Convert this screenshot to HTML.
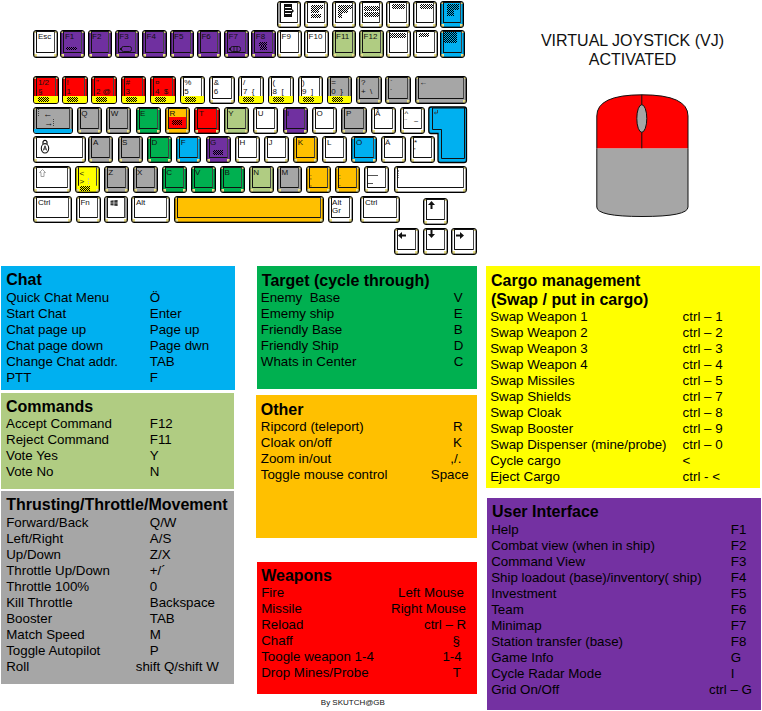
<!DOCTYPE html>
<html><head><meta charset="utf-8"><title>Keyboard</title><style>
*{margin:0;padding:0}
html,body{width:762px;height:711px;overflow:hidden;background:#fff;position:relative;font-family:"Liberation Sans", sans-serif}
.k{position:absolute;box-sizing:border-box;border:1px solid #000;border-radius:3px;overflow:hidden;box-shadow:inset 0 0 0 1px rgba(0,0,0,.38);
background-image:linear-gradient(#ece28c,#ece28c),linear-gradient(#ece28c,#ece28c),linear-gradient(#ece28c,#ece28c),linear-gradient(#ece28c,#ece28c);
background-size:2px 2px,2px 2px,3px 3px,3px 3px;background-position:0 0,100% 0,0 100%,100% 100%;background-repeat:no-repeat}
.k i{position:absolute;display:block}
.k .f{left:2px;right:2px;top:0;bottom:4px;border:1px solid #111;border-right-color:#444;border-radius:1px}
.k .f.lr{border-top:0;border-bottom:0;top:0;bottom:6px}
.k .s{left:0;right:0;bottom:0;height:7px}
.k .c{background:repeating-conic-gradient(#000 0 25%,transparent 0 50%) 0 0/2px 2px}
.k .bar{width:0;border-left:1px dotted #444}
.k .hl{height:0;border-top:1px solid #555}
.k .l{position:absolute;left:3.6px;font-size:8px;line-height:8px;color:#111;white-space:pre}
.k .ic{position:absolute}
.p{position:absolute}
.h{position:absolute;font-size:16px;font-weight:bold;line-height:18px;color:#000;white-space:pre}
.t{position:absolute;font-size:13.33px;line-height:16px;color:#000;white-space:pre}
.vj{position:absolute;left:532px;width:201px;text-align:center;font-size:16px;line-height:19px;color:#111}
.by{position:absolute;left:320.8px;top:698px;font-size:8px;line-height:10px;color:#111}
</style></head>
<body>
<div class="k" style="left:277px;top:0.7px;width:24px;height:27.1px;background-color:#ffffff"><i class="f"></i><i style="left:0;top:1px;width:2px;bottom:4px;background:#9a9a9a"></i><svg class="ic" style="left:5px;top:2px" width="12" height="14" viewBox="0 0 12 14"><rect x="1" y="0" width="8" height="13" fill="#111"/><rect x="2" y="3" width="6" height="1" fill="#fff"/><rect x="2" y="6" width="7" height="1" fill="#fff"/><rect x="2" y="9" width="6" height="1" fill="#fff"/><path d="M9 5 L11 7 L9 9 Z" fill="#111"/></svg></div>
<div class="k" style="left:304px;top:0.7px;width:24px;height:27.1px;background-color:#ffffff"><i class="f"></i><i class="c" style="left:6px;top:3px;width:12px;height:4px"></i><i class="c" style="left:6px;top:7px;width:8px;height:4px"></i><i class="c" style="left:6px;top:12px;width:10px;height:4px"></i></div>
<div class="k" style="left:331.5px;top:0.7px;width:24.0px;height:27.1px;background-color:#ffffff"><i class="f"></i><i class="c" style="left:5px;top:3px;width:14px;height:4px"></i><i class="c" style="left:5px;top:7px;width:10px;height:4px"></i><i class="c" style="left:5px;top:11px;width:4px;height:5px"></i></div>
<div class="k" style="left:359px;top:0.7px;width:24px;height:27.1px;background-color:#ffffff"><i class="f"></i><i class="c" style="left:4px;top:4px;width:15px;height:5px"></i><i class="c" style="left:4px;top:10px;width:15px;height:5px"></i></div>
<div class="k" style="left:386.3px;top:0.7px;width:24.0px;height:27.1px;background-color:#ffffff"><i class="f"></i><i class="c" style="left:5px;top:2px;width:13px;height:5px"></i></div>
<div class="k" style="left:413.3px;top:0.7px;width:24.0px;height:27.1px;background-color:#ffffff"><i class="f"></i><i class="c" style="left:6px;top:2px;width:13px;height:5px"></i></div>
<div class="k" style="left:440.3px;top:0.7px;width:24.0px;height:27.1px;background-color:#00b0f0"><i class="f"></i><i class="c" style="left:6px;top:2px;width:12px;height:6px"></i><i class="c" style="left:6px;top:8px;width:7px;height:6px"></i></div>
<div class="k" style="left:33.3px;top:30px;width:24.5px;height:27.8px;background-color:#ffffff"><i class="f"></i><span class="l" style="top:2px">Esc</span></div>
<div class="k" style="left:60.3px;top:30px;width:24.5px;height:27.8px;background-color:#7030a0"><i class="f"></i><span class="l" style="top:2px">F1</span><i class="c" style="left:5px;top:16px;width:11px;height:3px"></i></div>
<div class="k" style="left:87.5px;top:30px;width:24.5px;height:27.8px;background-color:#7030a0"><i class="f"></i><span class="l" style="top:2px">F2</span></div>
<div class="k" style="left:114.7px;top:30px;width:24.5px;height:27.8px;background-color:#7030a0"><i class="f"></i><span class="l" style="top:2px">F3</span><svg class="ic" style="left:4px;top:15px" width="13" height="7" viewBox="0 0 13 7"><rect x="1.5" y="0.5" width="10" height="5" rx="2" fill="none" stroke="#111" stroke-width="0.9"/><rect x="0" y="2" width="2" height="2" fill="#111"/></svg></div>
<div class="k" style="left:142px;top:30px;width:24.5px;height:27.8px;background-color:#7030a0"><i class="f"></i><span class="l" style="top:2px">F4</span></div>
<div class="k" style="left:169.5px;top:30px;width:24.5px;height:27.8px;background-color:#7030a0"><i class="f"></i><span class="l" style="top:2px">F5</span></div>
<div class="k" style="left:196.8px;top:30px;width:24.5px;height:27.8px;background-color:#7030a0"><i class="f"></i><span class="l" style="top:2px">F6</span></div>
<div class="k" style="left:224px;top:30px;width:24.5px;height:27.8px;background-color:#7030a0"><i class="f"></i><span class="l" style="top:2px">F7</span><svg class="ic" style="left:4px;top:15px" width="13" height="7" viewBox="0 0 13 7"><rect x="1.5" y="0.5" width="10" height="5" rx="2" fill="none" stroke="#111" stroke-width="0.9"/><rect x="0" y="2" width="2" height="2" fill="#111"/><path d="M5 1V5M8 1V5" stroke="#111" stroke-width="0.8"/></svg></div>
<div class="k" style="left:251.2px;top:30px;width:24.5px;height:27.8px;background-color:#7030a0"><i class="f"></i><span class="l" style="top:2px">F8</span><i class="c" style="left:7px;top:11px;width:8px;height:4px"></i><i class="c" style="left:8px;top:15px;width:7px;height:4px"></i></div>
<div class="k" style="left:277px;top:30px;width:24.5px;height:27.8px;background-color:#ffffff"><i class="f"></i><span class="l" style="top:2px">F9</span></div>
<div class="k" style="left:304px;top:30px;width:24.5px;height:27.8px;background-color:#ffffff"><i class="f"></i><span class="l" style="top:2px">F10</span></div>
<div class="k" style="left:331.5px;top:30px;width:24.5px;height:27.8px;background-color:#b0cc82"><i class="f"></i><span class="l" style="top:2px">F11</span></div>
<div class="k" style="left:359px;top:30px;width:24.5px;height:27.8px;background-color:#b0cc82"><i class="f"></i><span class="l" style="top:2px">F12</span></div>
<div class="k" style="left:386.3px;top:30px;width:24.5px;height:27.8px;background-color:#ffffff"><i class="f"></i><i class="c" style="left:2px;top:2px;width:17px;height:5px"></i></div>
<div class="k" style="left:413.3px;top:30px;width:24.5px;height:27.8px;background-color:#ffffff"><i class="f"></i><i class="c" style="left:5px;top:2px;width:10px;height:4px"></i></div>
<div class="k" style="left:440.3px;top:30px;width:24.5px;height:27.8px;background-color:#00b0f0"><i class="f"></i><i class="c" style="left:3px;top:1px;width:13px;height:11px"></i></div>
<div class="k" style="left:33.3px;top:75.7px;width:25.5px;height:28.0px;background-color:#ff0000"><i class="f"></i><i class="s" style="background:#ffff00"><i class="c" style="left:4px;top:1px;width:11px;height:5px"></i></i><span class="l" style="top:2px">1/2</span><span class="l" style="top:11px">§</span></div>
<div class="k" style="left:62px;top:75.7px;width:25.5px;height:28.0px;background-color:#ff0000"><i class="f"></i><i class="s" style="background:#ffff00"><i class="c" style="left:4px;top:1px;width:11px;height:5px"></i></i><span class="l" style="top:2px">!</span><span class="l" style="top:11px">1</span></div>
<div class="k" style="left:91.3px;top:75.7px;width:25.5px;height:28.0px;background-color:#ff0000"><i class="f"></i><i class="s" style="background:#ffff00"><i class="c" style="left:4px;top:1px;width:11px;height:5px"></i></i><span class="l" style="top:2px">"</span><span class="l" style="top:11px">2 @</span></div>
<div class="k" style="left:120.8px;top:75.7px;width:25.5px;height:28.0px;background-color:#ff0000"><i class="f"></i><i class="s" style="background:#ffff00"><i class="c" style="left:4px;top:1px;width:11px;height:5px"></i></i><span class="l" style="top:2px">#</span><span class="l" style="top:11px">3</span></div>
<div class="k" style="left:150.3px;top:75.7px;width:25.5px;height:28.0px;background-color:#ff0000"><i class="f"></i><i class="s" style="background:#ffff00"><i class="c" style="left:4px;top:1px;width:11px;height:5px"></i></i><span class="l" style="top:2px">¤</span><span class="l" style="top:11px">4  $</span></div>
<div class="k" style="left:179.7px;top:75.7px;width:25.5px;height:28.0px;background-color:#ffffff"><i class="f"></i><i class="s" style="background:#ffff00"><i class="c" style="left:4px;top:1px;width:11px;height:5px"></i></i><span class="l" style="top:2px">%</span><span class="l" style="top:11px">5</span></div>
<div class="k" style="left:209.2px;top:75.7px;width:25.5px;height:28.0px;background-color:#ffffff"><i class="f"></i><span class="l" style="top:2px">&</span><span class="l" style="top:11px">6</span></div>
<div class="k" style="left:238.3px;top:75.7px;width:25.5px;height:28.0px;background-color:#ffffff"><i class="f"></i><i class="s" style="background:#ffff00"><i class="c" style="left:4px;top:1px;width:11px;height:5px"></i></i><span class="l" style="top:2px">/</span><span class="l" style="top:11px">7  {</span></div>
<div class="k" style="left:268px;top:75.7px;width:25.5px;height:28.0px;background-color:#ffffff"><i class="f"></i><i class="s" style="background:#ffff00"><i class="c" style="left:4px;top:1px;width:11px;height:5px"></i></i><span class="l" style="top:2px">(</span><span class="l" style="top:11px">8  [</span></div>
<div class="k" style="left:297.5px;top:75.7px;width:25.5px;height:28.0px;background-color:#ffffff"><i class="f"></i><i class="s" style="background:#ffff00"><i class="c" style="left:4px;top:1px;width:11px;height:5px"></i></i><span class="l" style="top:2px">)</span><span class="l" style="top:11px">9  ]</span></div>
<div class="k" style="left:326.7px;top:75.7px;width:25.5px;height:28.0px;background-color:#a6a6a6"><i class="f"></i><i class="s" style="background:#ffff00"><i class="c" style="left:4px;top:1px;width:11px;height:5px"></i></i><span class="l" style="top:2px">=</span><span class="l" style="top:11px">0  }</span></div>
<div class="k" style="left:356.3px;top:75.7px;width:25.5px;height:28.0px;background-color:#a6a6a6"><i class="f"></i><span class="l" style="top:2px">?</span><span class="l" style="top:11px">+  \</span></div>
<div class="k" style="left:385.3px;top:75.7px;width:25.5px;height:28.0px;background-color:#a6a6a6"><i class="f"></i><span class="l" style="top:2px">`</span><span class="l" style="top:11px">´</span></div>
<div class="k" style="left:414.7px;top:75.7px;width:52.3px;height:28.0px;background-color:#a6a6a6"><i class="f"></i><span class="l" style="top:2px">←</span></div>
<div class="k" style="left:33.3px;top:107.2px;width:39.4px;height:26.8px;background-color:#a6a6a6"><i class="f"></i><i class="s" style="background:#00b0f0;height:4px"></i><i class="bar" style="left:4px;top:1px;height:7px"></i><span class="l" style="left:9px;top:2px;font-size:9px">←</span><span class="l" style="left:10px;top:11px;font-size:9px">→</span><i class="bar" style="left:19px;top:11px;height:7px"></i></div>
<div class="k" style="left:76.7px;top:107.2px;width:25.3px;height:26.8px;background-color:#a6a6a6"><i class="f"></i><span class="l" style="top:2px">Q</span></div>
<div class="k" style="left:106.1px;top:107.2px;width:25.3px;height:26.8px;background-color:#a6a6a6"><i class="f"></i><span class="l" style="top:2px">W</span></div>
<div class="k" style="left:135.5px;top:107.2px;width:25.3px;height:26.8px;background-color:#00b050"><i class="f"></i><span class="l" style="top:2px">E</span></div>
<div class="k" style="left:164.9px;top:107.2px;width:25.3px;height:26.8px;background-color:#ffc000"><i class="f"></i><i style="background:#ff0000;left:3px;right:3px;top:9px;bottom:5px"><i class="c" style="left:3px;top:3px;width:10px;height:5px"></i></i><span class="l" style="top:2px">R</span></div>
<div class="k" style="left:194.3px;top:107.2px;width:25.3px;height:26.8px;background-color:#ff0000"><i class="f"></i><span class="l" style="top:2px">T</span></div>
<div class="k" style="left:223.7px;top:107.2px;width:25.3px;height:26.8px;background-color:#b0cc82"><i class="f"></i><span class="l" style="top:2px">Y</span></div>
<div class="k" style="left:253.1px;top:107.2px;width:25.3px;height:26.8px;background-color:#ffffff"><i class="f"></i><span class="l" style="top:2px">U</span></div>
<div class="k" style="left:282.5px;top:107.2px;width:25.3px;height:26.8px;background-color:#7030a0"><i class="f"></i><span class="l" style="top:2px">I</span></div>
<div class="k" style="left:311.9px;top:107.2px;width:25.3px;height:26.8px;background-color:#ffffff"><i class="f"></i><span class="l" style="top:2px">O</span></div>
<div class="k" style="left:341.3px;top:107.2px;width:25.3px;height:26.8px;background-color:#a6a6a6"><i class="f"></i><span class="l" style="top:2px">P</span></div>
<div class="k" style="left:370.5px;top:107.2px;width:25.3px;height:26.8px;background-color:#ffffff"><i class="f"></i><span class="l" style="top:2px">Å</span></div>
<div class="k" style="left:399.9px;top:107.2px;width:25.3px;height:26.8px;background-color:#ffffff"><i class="f"></i><span class="l" style="top:2px">^</span><span class="l" style="top:10px">¨   ~</span></div>
<div class="k" style="left:33.3px;top:136.3px;width:52.3px;height:27.2px;background-color:#ffffff"><i class="f"></i><svg class="ic" style="left:5.5px;top:1.5px" width="10" height="15" viewBox="0 0 10 15"><path d="M3 5 V3.3 a2 2 0 0 1 4 0 V5" fill="none" stroke="#111" stroke-width="1.2"/><ellipse cx="5" cy="9.3" rx="3.7" ry="4.7" fill="#fff" stroke="#111" stroke-width="1.1"/><path d="M3.3 11.5 L5 6.8 L6.7 11.5 M3.9 10 H6.1" fill="none" stroke="#222" stroke-width="0.9"/></svg></div>
<div class="k" style="left:88.3px;top:136.3px;width:25.2px;height:27.2px;background-color:#a6a6a6"><i class="f"></i><span class="l" style="top:2px">A</span></div>
<div class="k" style="left:117.5px;top:136.3px;width:25.2px;height:27.2px;background-color:#a6a6a6"><i class="f"></i><span class="l" style="top:2px">S</span></div>
<div class="k" style="left:146.9px;top:136.3px;width:25.2px;height:27.2px;background-color:#00b050"><i class="f"></i><span class="l" style="top:2px">D</span></div>
<div class="k" style="left:176.2px;top:136.3px;width:25.2px;height:27.2px;background-color:#00b0f0"><i class="f"></i><span class="l" style="top:2px">F</span></div>
<div class="k" style="left:205.5px;top:136.3px;width:25.2px;height:27.2px;background-color:#7030a0"><i class="f"></i><span class="l" style="top:2px">G</span><i class="c" style="left:6px;top:13px;width:10px;height:5px"></i></div>
<div class="k" style="left:234.8px;top:136.3px;width:25.2px;height:27.2px;background-color:#ffffff"><i class="f"></i><span class="l" style="top:2px">H</span></div>
<div class="k" style="left:264px;top:136.3px;width:25.2px;height:27.2px;background-color:#ffffff"><i class="f"></i><span class="l" style="top:2px">J</span></div>
<div class="k" style="left:293.2px;top:136.3px;width:25.2px;height:27.2px;background-color:#ffc000"><i class="f"></i><span class="l" style="top:2px">K</span></div>
<div class="k" style="left:322.3px;top:136.3px;width:25.2px;height:27.2px;background-color:#ffffff"><i class="f"></i><span class="l" style="top:2px">L</span></div>
<div class="k" style="left:351.4px;top:136.3px;width:25.2px;height:27.2px;background-color:#00b0f0"><i class="f"></i><span class="l" style="top:2px">Ö</span></div>
<div class="k" style="left:380.5px;top:136.3px;width:25.2px;height:27.2px;background-color:#ffffff"><i class="f"></i><span class="l" style="top:2px">Ä</span></div>
<div class="k" style="left:409.5px;top:136.3px;width:25.2px;height:27.2px;background-color:#ffffff"><i class="f"></i><span class="l" style="top:2px">*</span><span class="l" style="top:10px">'</span></div>
<div class="k" style="left:33.3px;top:166.2px;width:37.7px;height:26.8px;background-color:#ffffff"><i class="f"></i><svg class="ic" style="left:4.5px;top:1.5px" width="7" height="8" viewBox="0 0 7 8"><path d="M3.5 0.5 L6.5 3.5 H5 V7.5 H2 V3.5 H0.5 Z" fill="none" stroke="#999" stroke-width="0.9"/></svg></div>
<div class="k" style="left:75px;top:166.2px;width:24.8px;height:26.8px;background-color:#ffff00"><i class="f lr"></i><i class="c" style="left:4px;bottom:1px;width:10px;height:5px"></i><span class="l" style="top:3px"><</span><span class="l" style="top:11px">></span><i class="bar" style="left:12px;top:11px;height:6px;border-color:#bbb"></i></div>
<div class="k" style="left:103.7px;top:166.2px;width:25.0px;height:26.8px;background-color:#a6a6a6"><i class="f"></i><span class="l" style="top:2px">Z</span></div>
<div class="k" style="left:132.5px;top:166.2px;width:25.0px;height:26.8px;background-color:#a6a6a6"><i class="f"></i><span class="l" style="top:2px">X</span></div>
<div class="k" style="left:161.7px;top:166.2px;width:25.0px;height:26.8px;background-color:#00b050"><i class="f"></i><span class="l" style="top:2px">C</span></div>
<div class="k" style="left:190.5px;top:166.2px;width:25.0px;height:26.8px;background-color:#00b050"><i class="f"></i><span class="l" style="top:2px">V</span></div>
<div class="k" style="left:219.8px;top:166.2px;width:25.0px;height:26.8px;background-color:#00b050"><i class="f"></i><span class="l" style="top:2px">B</span></div>
<div class="k" style="left:248.7px;top:166.2px;width:25.0px;height:26.8px;background-color:#b0cc82"><i class="f"></i><span class="l" style="top:2px">N</span></div>
<div class="k" style="left:277px;top:166.2px;width:25px;height:26.8px;background-color:#a6a6a6"><i class="f"></i><span class="l" style="top:2px">M</span></div>
<div class="k" style="left:305.8px;top:166.2px;width:25.0px;height:26.8px;background-color:#ffc000"><i class="f"></i><span class="l" style="left:3px;top:6px;font-size:7px">;</span><span class="l" style="left:3px;top:13px;font-size:7px">,</span></div>
<div class="k" style="left:334.7px;top:166.2px;width:25.0px;height:26.8px;background-color:#ffc000"><i class="f"></i><span class="l" style="left:3px;top:6px;font-size:7px">:</span><span class="l" style="left:3px;top:13px;font-size:7px">.</span></div>
<div class="k" style="left:363.7px;top:166.2px;width:25.0px;height:26.8px;background-color:#ffffff"><i class="f"></i><i class="hl" style="left:3px;top:8px;width:10px"></i><i class="hl" style="left:3px;top:16px;width:5px"></i></div>
<div class="k" style="left:394.2px;top:166.2px;width:72.8px;height:26.8px;background-color:#ffffff"><i class="f"></i><i class="bar" style="left:3px;top:3px;height:8px;border-color:#999"></i></div>
<div class="k" style="left:33.3px;top:196.2px;width:39.2px;height:26.8px;background-color:#ffffff"><i class="f"></i><span class="l" style="top:2px">Ctrl</span></div>
<div class="k" style="left:75.8px;top:196.2px;width:25.0px;height:26.8px;background-color:#ffffff"><i class="f"></i><span class="l" style="top:2px">Fn</span></div>
<div class="k" style="left:104.2px;top:196.2px;width:23.6px;height:26.8px;background-color:#ffffff"><i class="f"></i><i style="left:0;top:1px;width:2px;bottom:4px;background:#9a9a9a"></i><i style="right:0;top:1px;width:2px;bottom:4px;background:#9a9a9a"></i><svg class="ic" style="left:5px;top:3px" width="8" height="6" viewBox="0 0 8 6"><path d="M0.5 0.8 L3.6 0.3 V2.7 H0.5 Z M4.3 0.2 L7.6 0 V2.7 H4.3 Z M0.5 3.3 H3.6 V5.6 L0.5 5.2 Z M4.3 3.3 H7.6 V6 L4.3 5.7 Z" fill="#333"/></svg></div>
<div class="k" style="left:131.3px;top:196.2px;width:38.5px;height:26.8px;background-color:#ffffff"><i class="f"></i><span class="l" style="top:2px">Alt</span></div>
<div class="k" style="left:174.2px;top:196.2px;width:149.6px;height:26.8px;background-color:#ffc000"><i class="f"></i></div>
<div class="k" style="left:327.5px;top:196.2px;width:25.5px;height:26.8px;background-color:#ffffff"><i class="f"></i><span class="l" style="top:2px">Alt</span><span class="l" style="top:10px">Gr</span></div>
<div class="k" style="left:360.3px;top:196.2px;width:39.4px;height:26.8px;background-color:#ffffff"><i class="f"></i><span class="l" style="top:2px">Ctrl</span></div>
<div class="k" style="left:422.5px;top:197.5px;width:25.5px;height:27.3px;background-color:#ffffff"><i class="f"></i><svg class="ic" style="left:4px;top:2px" width="7" height="8" viewBox="0 0 7 8"><path d="M3.5 0 L7 4 H4.5 V8 H2.5 V4 H0 Z" fill="#111"/></svg></div>
<div class="k" style="left:393.7px;top:228px;width:25.1px;height:27.2px;background-color:#ffffff"><i class="f"></i><svg class="ic" style="left:3px;top:3px" width="8" height="7" viewBox="0 0 8 7"><path d="M0 3.5 L4 0 V2.5 H8 V4.5 H4 V7 Z" fill="#111"/></svg></div>
<div class="k" style="left:422.5px;top:228px;width:25.5px;height:27.2px;background-color:#ffffff"><i class="f"></i><svg class="ic" style="left:4px;top:1px" width="7" height="8" viewBox="0 0 7 8"><path d="M3.5 8 L7 4 H4.5 V0 H2.5 V4 H0 Z" fill="#111"/></svg></div>
<div class="k" style="left:451.3px;top:228px;width:25.5px;height:27.2px;background-color:#ffffff"><i class="f"></i><svg class="ic" style="left:4px;top:3px" width="8" height="7" viewBox="0 0 8 7"><path d="M8 3.5 L4 0 V2.5 H0 V4.5 H4 V7 Z" fill="#111"/></svg></div>
<svg style="position:absolute;left:427px;top:105px" width="42" height="60" viewBox="427 105 42 60">
<path d="M431 107 H464 Q466.5 107 466.5 109.5 V160.3 Q466.5 162.5 464 162.5 H440.3 Q438 162.5 438 160.3 V133.5 H431 Q428.8 133.5 428.8 131 V109.5 Q428.8 107 431 107 Z" fill="#00b0f0" stroke="#000" stroke-width="1.3"/>
<path d="M432.5 108 H464.5 V158.5 H441.5 V129.5 H432.5 Z" fill="none" stroke="#111" stroke-width="1"/>
<path d="M437.5 110 V113 H434.5 M435.5 112 L434.3 113 L435.5 114" fill="none" stroke="#333" stroke-width="0.8"/>
</svg>
<div class="vj" style="top:31px">VIRTUAL JOYSTICK (VJ)</div>
<div class="vj" style="top:50px">ACTIVATED</div>
<svg style="position:absolute;left:590px;top:88px" width="105" height="135" viewBox="590 88 105 135">
<path d="M596.8 148.3 V207 Q596.8 216.5 642 216.5 Q688 216.5 688 207 V148.3" fill="#a6a6a6" stroke="#111" stroke-width="1"/>
<path d="M596.8 148.3 V116 Q596.8 94.8 642 94.8 Q688 94.8 688 116 V148.3" fill="#ff0000" stroke="#111" stroke-width="1"/>
<line x1="641.8" y1="94.8" x2="641.8" y2="148.3" stroke="#111" stroke-width="1"/>
<ellipse cx="641.8" cy="118.5" rx="5" ry="13.8" fill="#a6a6a6" stroke="#111" stroke-width="1"/>
</svg>
<div class="p" style="left:1px;top:266px;width:234px;height:123.5px;background:#00b0f0"></div><div class="h" style="left:6.2px;top:271.4px">Chat</div><div class="t" style="left:6.2px;top:290.1px">Quick Chat Menu</div><div class="t" style="left:149.8px;top:290.1px">Ö</div><div class="t" style="left:6.2px;top:306.1px">Start Chat</div><div class="t" style="left:149.8px;top:306.1px">Enter</div><div class="t" style="left:6.2px;top:322.1px">Chat page up</div><div class="t" style="left:149.8px;top:322.1px">Page up</div><div class="t" style="left:6.2px;top:338.1px">Chat page down</div><div class="t" style="left:149.8px;top:338.1px">Page dwn</div><div class="t" style="left:6.2px;top:354.1px">Change Chat addr.</div><div class="t" style="left:149.8px;top:354.1px">TAB</div><div class="t" style="left:6.2px;top:370.1px">PTT</div><div class="t" style="left:149.8px;top:370.1px">F</div><div class="p" style="left:1px;top:392.5px;width:232.5px;height:96.0px;background:#b0cc82"></div><div class="h" style="left:6.0px;top:397.7px">Commands</div><div class="t" style="left:6.0px;top:415.7px">Accept Command</div><div class="t" style="left:149.8px;top:415.7px">F12</div><div class="t" style="left:6.0px;top:431.7px">Reject Command</div><div class="t" style="left:149.8px;top:431.7px">F11</div><div class="t" style="left:6.0px;top:447.7px">Vote Yes</div><div class="t" style="left:149.8px;top:447.7px">Y</div><div class="t" style="left:6.0px;top:463.7px">Vote No</div><div class="t" style="left:149.8px;top:463.7px">N</div><div class="p" style="left:1px;top:491px;width:232.5px;height:193px;background:#a6a6a6"></div><div class="h" style="left:6.2px;top:496.2px">Thrusting/Throttle/Movement</div><div class="t" style="left:6.2px;top:515.1px">Forward/Back</div><div class="t" style="left:149.8px;top:515.1px">Q/W</div><div class="t" style="left:6.2px;top:531.1px">Left/Right</div><div class="t" style="left:149.8px;top:531.1px">A/S</div><div class="t" style="left:6.2px;top:547.1px">Up/Down</div><div class="t" style="left:149.8px;top:547.1px">Z/X</div><div class="t" style="left:6.2px;top:563.1px">Throttle Up/Down</div><div class="t" style="left:149.8px;top:563.1px">+/´</div><div class="t" style="left:6.2px;top:579.1px">Throttle 100%</div><div class="t" style="left:149.8px;top:579.1px">0</div><div class="t" style="left:6.2px;top:595.1px">Kill Throttle</div><div class="t" style="left:149.8px;top:595.1px">Backspace</div><div class="t" style="left:6.2px;top:611.1px">Booster</div><div class="t" style="left:149.8px;top:611.1px">TAB</div><div class="t" style="left:6.2px;top:627.1px">Match Speed</div><div class="t" style="left:149.8px;top:627.1px">M</div><div class="t" style="left:6.2px;top:643.1px">Toggle Autopilot</div><div class="t" style="left:149.8px;top:643.1px">P</div><div class="t" style="left:6.2px;top:659.1px">Roll</div><div class="t" style="left:135.8px;top:659.1px">shift Q/shift W</div><div class="p" style="left:256.5px;top:266px;width:220.5px;height:123.3px;background:#00b050"></div><div class="h" style="left:261.8px;top:272.2px">Target (cycle through)</div><div class="t" style="left:260.8px;top:289.8px">Enemy&nbsp; Base</div><div class="t" style="left:453.8px;top:289.8px">V</div><div class="t" style="left:260.8px;top:305.8px">Ememy ship</div><div class="t" style="left:453.8px;top:305.8px">E</div><div class="t" style="left:260.8px;top:321.8px">Friendly Base</div><div class="t" style="left:453.8px;top:321.8px">B</div><div class="t" style="left:260.8px;top:337.8px">Friendly Ship</div><div class="t" style="left:453.8px;top:337.8px">D</div><div class="t" style="left:260.8px;top:353.8px">Whats in Center</div><div class="t" style="left:453.8px;top:353.8px">C</div><div class="p" style="left:256.2px;top:395px;width:220.8px;height:143px;background:#ffc000"></div><div class="h" style="left:260.8px;top:401.0px">Other</div><div class="t" style="left:260.8px;top:418.5px">Ripcord (teleport)</div><div class="t" style="left:453.0px;top:418.5px">R</div><div class="t" style="left:260.8px;top:434.5px">Cloak on/off</div><div class="t" style="left:453.0px;top:434.5px">K</div><div class="t" style="left:260.8px;top:450.5px">Zoom in/out</div><div class="t" style="left:450.3px;top:450.5px">,/.</div><div class="t" style="left:260.8px;top:466.5px">Toggle mouse control</div><div class="t" style="left:430.8px;top:466.5px">Space</div><div class="p" style="left:257px;top:561.5px;width:220px;height:132.1px;background:#ff0000"></div><div class="h" style="left:261.2px;top:567.0px">Weapons</div><div class="t" style="left:261.2px;top:584.9px">Fire</div><div class="t" style="left:398.0px;top:584.9px">Left Mouse</div><div class="t" style="left:261.2px;top:600.9px">Missile</div><div class="t" style="left:391.0px;top:600.9px">Right Mouse</div><div class="t" style="left:261.2px;top:616.9px">Reload</div><div class="t" style="left:424.0px;top:616.9px">ctrl – R</div><div class="t" style="left:261.2px;top:632.9px">Chaff</div><div class="t" style="left:452.6px;top:632.9px">§</div><div class="t" style="left:261.2px;top:648.9px">Toogle weapon 1-4</div><div class="t" style="left:442.4px;top:648.9px">1-4</div><div class="t" style="left:261.2px;top:664.9px">Drop Mines/Probe</div><div class="t" style="left:452.8px;top:664.9px">T</div><div class="p" style="left:486px;top:266px;width:274px;height:222px;background:#ffff00"></div><div class="h" style="left:491px;top:271.6px">Cargo management</div><div class="h" style="left:491px;top:291.1px">(Swap / put in cargo)</div><div class="t" style="left:490.2px;top:308.5px">Swap Weapon 1</div><div class="t" style="left:682.6px;top:308.5px">ctrl – 1</div><div class="t" style="left:490.2px;top:324.5px">Swap Weapon 2</div><div class="t" style="left:682.6px;top:324.5px">ctrl – 2</div><div class="t" style="left:490.2px;top:340.5px">Swap Weapon 3</div><div class="t" style="left:682.6px;top:340.5px">ctrl – 3</div><div class="t" style="left:490.2px;top:356.5px">Swap Weapon 4</div><div class="t" style="left:682.6px;top:356.5px">ctrl – 4</div><div class="t" style="left:490.2px;top:372.5px">Swap Missiles</div><div class="t" style="left:682.6px;top:372.5px">ctrl – 5</div><div class="t" style="left:490.2px;top:388.5px">Swap Shields</div><div class="t" style="left:682.6px;top:388.5px">ctrl – 7</div><div class="t" style="left:490.2px;top:404.5px">Swap Cloak</div><div class="t" style="left:682.6px;top:404.5px">ctrl – 8</div><div class="t" style="left:490.2px;top:420.5px">Swap Booster</div><div class="t" style="left:682.6px;top:420.5px">ctrl – 9</div><div class="t" style="left:490.2px;top:436.5px">Swap Dispenser (mine/probe)</div><div class="t" style="left:682.6px;top:436.5px">ctrl – 0</div><div class="t" style="left:490.2px;top:452.5px">Cycle cargo</div><div class="t" style="left:682.6px;top:452.5px">&lt;</div><div class="t" style="left:490.2px;top:468.5px">Eject Cargo</div><div class="t" style="left:682.6px;top:468.5px">ctrl - &lt;</div><div class="p" style="left:487px;top:498px;width:274px;height:212px;background:#7431a2"></div><div class="h" style="left:492px;top:503.2px">User Interface</div><div class="t" style="left:491.2px;top:521.8px">Help</div><div class="t" style="left:730.8px;top:521.8px">F1</div><div class="t" style="left:491.2px;top:537.8px">Combat view (when in ship)</div><div class="t" style="left:730.8px;top:537.8px">F2</div><div class="t" style="left:491.2px;top:553.8px">Command View</div><div class="t" style="left:730.8px;top:553.8px">F3</div><div class="t" style="left:491.2px;top:569.8px">Ship loadout (base)/inventory( ship)</div><div class="t" style="left:730.8px;top:569.8px">F4</div><div class="t" style="left:491.2px;top:585.8px">Investment</div><div class="t" style="left:730.8px;top:585.8px">F5</div><div class="t" style="left:491.2px;top:601.8px">Team</div><div class="t" style="left:730.8px;top:601.8px">F6</div><div class="t" style="left:491.2px;top:617.8px">Minimap</div><div class="t" style="left:730.8px;top:617.8px">F7</div><div class="t" style="left:491.2px;top:633.8px">Station transfer (base)</div><div class="t" style="left:730.8px;top:633.8px">F8</div><div class="t" style="left:491.2px;top:649.8px">Game Info</div><div class="t" style="left:730.8px;top:649.8px">G</div><div class="t" style="left:491.2px;top:665.8px">Cycle Radar Mode</div><div class="t" style="left:730.8px;top:665.8px">I</div><div class="t" style="left:491.2px;top:681.8px">Grid On/Off</div><div class="t" style="left:709.0px;top:681.8px">ctrl – G</div>
<div class="by">By SKUTCH@GB</div>
</body></html>
